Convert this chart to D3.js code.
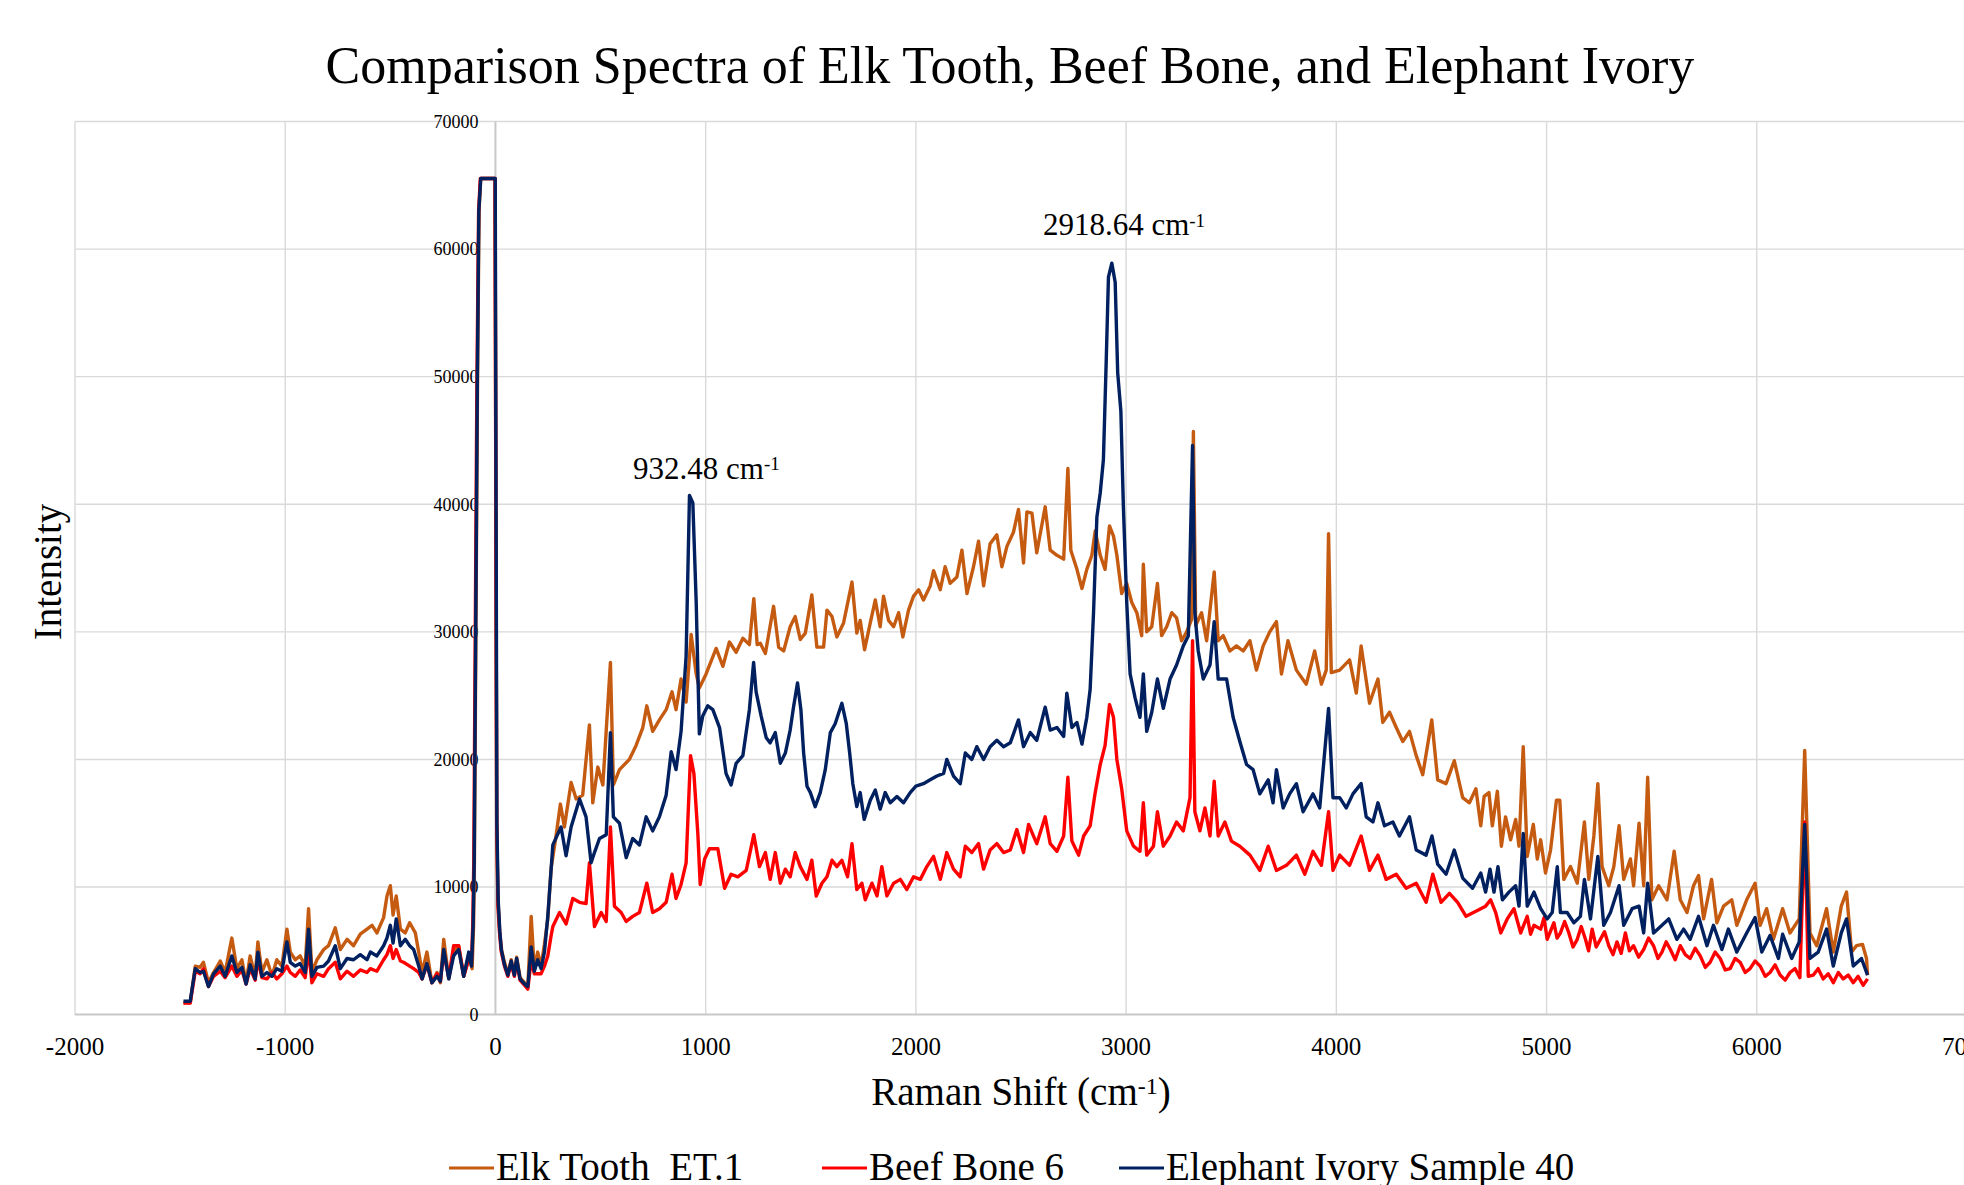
<!DOCTYPE html>
<html>
<head>
<meta charset="utf-8">
<script src="https://cdn.jsdelivr.net/npm/d3@7/dist/d3.min.js"></script>
<style>
  body { margin: 0; background: #fff; }
  svg { display: block; font-family: "Liberation Serif", "Times New Roman", serif; }
</style>
</head>
<body>
<svg id="chart" width="1964" height="1185"></svg>
<script>
// axis ticks
var xTicks = [-2000, -1000, 0, 1000, 2000, 3000, 4000, 5000, 6000, 7000];
var yTicks = [0, 10000, 20000, 30000, 40000, 50000, 60000, 70000];

var seriesNames = ["Elk Tooth  ET.1", "Beef Bone 6", "Elephant Ivory Sample 40"];
var seriesColors = ["#C55A11", "#FF0000", "#002060"];

// peak labels: [shift, label y value, text]
var peakShift = [932.48, 2918.64];
var peakLabelY = [42000, 61100];
var peakText = ["932.48 cm", "2918.64 cm"];

// [raman shift, intensity]
var elkTooth = [
  [-1484, 920], [-1452, 920], [-1428, 3800], [-1405, 3700], [-1389, 4100], [-1365, 2500], [-1341, 3300],
  [-1309, 4200], [-1286, 3300], [-1254, 6000], [-1230, 3600], [-1206, 4300], [-1186, 2500], [-1167, 4600],
  [-1143, 3000], [-1130, 5700], [-1111, 3300], [-1087, 4300], [-1063, 3000], [-1040, 4300], [-1016, 3800],
  [-992, 6700], [-976, 4900], [-952, 4300], [-929, 4600], [-905, 3800], [-889, 8300], [-873, 3300],
  [-849, 4300], [-817, 5100], [-794, 5400], [-762, 6800], [-738, 5100], [-706, 5900], [-675, 5400],
  [-643, 6300], [-611, 6700], [-587, 7000], [-564, 6400], [-532, 7600], [-516, 9300], [-500, 10100],
  [-487, 7800], [-472, 9300], [-452, 6700], [-429, 6400], [-408, 7200], [-381, 6400], [-365, 4900],
  [-349, 3300], [-326, 4900], [-302, 2500], [-278, 3300], [-262, 2500], [-246, 5900], [-222, 2800],
  [-199, 4900], [-175, 5400], [-151, 3000], [-127, 4600], [-111, 3600],
  [-104, 7000], [-100, 12000], [-93, 30000], [-85, 50000], [-78, 63000], [-70, 65535], [-2, 65535],
  [2, 40000], [6, 15000], [12, 9000], [20, 6500], [30, 5000],
  [43, 4100], [59, 3200], [75, 4300], [90, 3200], [101, 4500], [117, 2900], [138, 2500], [154, 2200],
  [170, 7700], [185, 3500], [201, 4900], [217, 3800], [233, 5500], [249, 7500], [265, 11500],
  [289, 14100], [309, 16500], [328, 14700], [360, 18200], [384, 16900], [415, 17200], [447, 22700],
  [463, 16600], [487, 19400], [511, 18000], [547, 27600], [561, 18000], [590, 19200], [637, 20000],
  [669, 21100], [701, 22500], [720, 24200], [748, 22200], [780, 23100], [812, 23900], [840, 25300],
  [859, 23900], [883, 26300], [907, 24500], [931, 29800], [955, 26700], [970, 25600], [1002, 26700],
  [1050, 28700], [1082, 27300], [1113, 29200], [1145, 28400], [1177, 29500], [1208, 29000], [1229, 32600],
  [1245, 29000], [1260, 29100], [1284, 28300], [1323, 32000], [1347, 28800], [1371, 28500], [1402, 30400],
  [1426, 31200], [1450, 29400], [1474, 29900], [1505, 32900], [1529, 28800], [1561, 28800], [1577, 31700],
  [1601, 31200], [1624, 29600], [1656, 30700], [1696, 33900], [1719, 29900], [1735, 30900], [1756, 28600],
  [1783, 30700], [1807, 32500], [1830, 30400], [1846, 32800], [1870, 30900], [1894, 30400], [1918, 31500],
  [1938, 29600], [1965, 31700], [1989, 32800], [2013, 33300], [2036, 32500], [2068, 33600], [2084, 34800],
  [2116, 33300], [2139, 35100], [2163, 33800], [2195, 34300], [2219, 36400], [2243, 33000], [2274, 35100],
  [2298, 37100], [2322, 33600], [2353, 36900], [2385, 37600], [2409, 35100], [2433, 36700], [2464, 37800],
  [2488, 39600], [2512, 35400], [2528, 39400], [2552, 39300], [2575, 36200], [2615, 39800], [2639, 36400],
  [2671, 36000], [2703, 35700], [2723, 42800], [2737, 36400], [2766, 34900], [2790, 33400], [2813, 34900],
  [2837, 36000], [2853, 37900], [2877, 36000], [2900, 34900], [2921, 38300], [2940, 37500], [2956, 36000],
  [2979, 33000], [3003, 33800], [3027, 32300], [3051, 31500], [3074, 29700], [3082, 35300], [3098, 30000],
  [3122, 30400], [3149, 33800], [3169, 29700], [3193, 30400], [3217, 31500], [3240, 31100], [3264, 29300],
  [3288, 30000], [3312, 31000], [3320, 45700], [3331, 30500], [3359, 31500], [3383, 29300], [3419, 34700],
  [3438, 29300], [3462, 29700], [3494, 28500], [3525, 28900], [3557, 28500], [3589, 29300], [3620, 27000],
  [3652, 28900], [3683, 30000], [3715, 30800], [3739, 26700], [3770, 29300], [3810, 27000], [3857, 25900],
  [3897, 28500], [3929, 25900], [3952, 27000], [3963, 37700], [3976, 26800], [4016, 27000], [4063, 27800],
  [4095, 25200], [4118, 28900], [4158, 24400], [4198, 26300], [4221, 22900], [4253, 23700], [4285, 22500],
  [4316, 21400], [4348, 22200], [4380, 20300], [4411, 18800], [4454, 23100], [4482, 18400], [4522, 18100],
  [4561, 19900], [4601, 17000], [4633, 16600], [4664, 17700], [4687, 14800], [4703, 17100], [4726, 17400],
  [4742, 14800], [4766, 17500], [4785, 13200], [4805, 15500], [4829, 13700], [4853, 15300], [4869, 13200],
  [4889, 21000], [4908, 12400], [4937, 14900], [4956, 12200], [4972, 13700], [4995, 11100], [5019, 12900],
  [5047, 16800], [5063, 16800], [5082, 10600], [5114, 11600], [5146, 10300], [5180, 15100], [5201, 10600],
  [5225, 14000], [5244, 18100], [5264, 11600], [5296, 10100], [5320, 11600], [5345, 14800], [5367, 10600],
  [5399, 12200], [5414, 10100], [5440, 15000], [5462, 10100], [5481, 18600], [5501, 9000], [5533, 10100],
  [5573, 9000], [5607, 12800], [5636, 9000], [5668, 8000], [5699, 10100], [5723, 10900], [5747, 7500],
  [5785, 10600], [5810, 7200], [5842, 8500], [5881, 9000], [5905, 7000], [5952, 9000], [5992, 10300],
  [6016, 7000], [6047, 8300], [6079, 5900], [6123, 8300], [6158, 6400], [6202, 7500], [6228, 20700],
  [6253, 6400], [6285, 5400], [6332, 8300], [6364, 4900], [6402, 8500], [6427, 9600], [6451, 4900],
  [6474, 5400], [6503, 5500], [6522, 4400], [6527, 3100]
];

var beefBone = [
  [-1484, 900], [-1452, 900], [-1428, 3400], [-1405, 3200], [-1389, 3600], [-1365, 2200], [-1341, 3000],
  [-1309, 3400], [-1286, 2900], [-1254, 3800], [-1230, 3000], [-1206, 3500], [-1186, 2400], [-1167, 3600],
  [-1143, 2700], [-1130, 4300], [-1111, 2900], [-1087, 2800], [-1063, 3300], [-1040, 2800], [-1016, 3200],
  [-992, 3800], [-976, 3300], [-952, 3000], [-929, 3500], [-905, 2900], [-889, 5100], [-873, 2500],
  [-849, 3200], [-817, 3000], [-794, 3600], [-762, 4100], [-738, 2800], [-706, 3400], [-675, 3000],
  [-643, 3500], [-611, 3300], [-595, 3600], [-564, 3400], [-532, 4300], [-516, 4700], [-500, 5400],
  [-487, 4400], [-472, 5100], [-452, 4200], [-437, 4100], [-408, 3800], [-389, 3600], [-365, 3300],
  [-349, 2800], [-326, 3900], [-302, 2500], [-278, 3200], [-262, 2600], [-246, 4900], [-222, 2900],
  [-199, 5400], [-175, 5400], [-151, 3000], [-127, 4300], [-114, 4100],
  [-108, 7000], [-103, 12000], [-96, 30000], [-88, 50000], [-80, 63000], [-72, 65535], [-2, 65535],
  [2, 40000], [6, 15000], [12, 8500], [20, 6300], [27, 5000],
  [43, 3800], [59, 3000], [75, 4000], [90, 3000], [101, 4200], [117, 2700], [138, 2300], [154, 2000],
  [170, 4300], [185, 3200], [201, 3200], [217, 3200], [233, 3800], [249, 4600], [265, 6200],
  [273, 6900], [305, 8000], [336, 7100], [368, 9100], [400, 8800], [431, 8700], [447, 11900],
  [471, 6900], [503, 8000], [527, 7300], [547, 14700], [566, 8500], [598, 8000], [622, 7300],
  [653, 7700], [685, 8000], [720, 10300], [748, 8000], [780, 8300], [812, 8800], [840, 11000],
  [859, 9100], [883, 10200], [907, 11900], [928, 20300], [944, 18900], [963, 14100], [974, 10200],
  [995, 12200], [1018, 13000], [1058, 13000], [1090, 9900], [1121, 11000], [1153, 10800], [1193, 11300],
  [1229, 14100], [1256, 11600], [1284, 12700], [1307, 10600], [1331, 12700], [1355, 10300], [1379, 11400],
  [1402, 10800], [1426, 12700], [1450, 11600], [1482, 10600], [1505, 12100], [1526, 9300], [1553, 10300],
  [1577, 10800], [1601, 12100], [1624, 11600], [1648, 12100], [1675, 10800], [1696, 13400], [1719, 9800],
  [1743, 10300], [1759, 9000], [1791, 10300], [1815, 9300], [1838, 11600], [1862, 9300], [1894, 10300],
  [1926, 10600], [1957, 9800], [1989, 10800], [2021, 10600], [2052, 11600], [2084, 12400], [2116, 10600],
  [2147, 12700], [2179, 11400], [2211, 10800], [2235, 13200], [2266, 12700], [2298, 13400], [2322, 11400],
  [2353, 12900], [2385, 13400], [2417, 12700], [2449, 12900], [2480, 14500], [2512, 12700], [2536, 14900],
  [2575, 13400], [2615, 15500], [2639, 13400], [2671, 12800], [2703, 14000], [2723, 18600], [2742, 13600],
  [2774, 12500], [2798, 14000], [2829, 14800], [2853, 17400], [2877, 19600], [2900, 21100], [2921, 24300],
  [2940, 23300], [2956, 20000], [2979, 17700], [3003, 14400], [3035, 13200], [3066, 12800], [3082, 16600],
  [3098, 12500], [3130, 13200], [3149, 15900], [3177, 13200], [3209, 14000], [3240, 15100], [3272, 14400],
  [3304, 17000], [3316, 29300], [3327, 15900], [3351, 14400], [3375, 16200], [3399, 14000], [3419, 18300],
  [3438, 14000], [3470, 15100], [3501, 13600], [3541, 13200], [3589, 12500], [3636, 11300], [3676, 13200],
  [3715, 11300], [3763, 11700], [3810, 12500], [3850, 11000], [3889, 12800], [3929, 11700], [3963, 15900],
  [3984, 11300], [4016, 12500], [4063, 11700], [4118, 14000], [4158, 11300], [4198, 12500], [4237, 10600],
  [4285, 11000], [4332, 9900], [4380, 10300], [4427, 8800], [4459, 11000], [4498, 8800], [4538, 9500],
  [4577, 8800], [4617, 7700], [4664, 8100], [4710, 8500], [4734, 9000], [4758, 8000], [4782, 6400],
  [4813, 7500], [4845, 8300], [4877, 6400], [4908, 7700], [4924, 6300], [4940, 7000], [4972, 6700],
  [4988, 7600], [5003, 5900], [5035, 7200], [5050, 6000], [5066, 6400], [5086, 7300], [5106, 6400],
  [5126, 5300], [5146, 5900], [5165, 6900], [5185, 5900], [5200, 5000], [5217, 6700], [5236, 5300],
  [5256, 5900], [5276, 6500], [5296, 5400], [5316, 4700], [5335, 5700], [5355, 4800], [5375, 6400],
  [5394, 5000], [5414, 5400], [5438, 4500], [5462, 5100], [5485, 6000], [5509, 5400], [5530, 4400],
  [5549, 4900], [5569, 5700], [5589, 5100], [5612, 4300], [5636, 5400], [5660, 4700], [5683, 4400],
  [5707, 5200], [5731, 4600], [5755, 3700], [5778, 4100], [5802, 4900], [5826, 4400], [5850, 3500],
  [5873, 3600], [5897, 4400], [5921, 4100], [5945, 3300], [5968, 3600], [5992, 4200], [6016, 3800],
  [6040, 3000], [6063, 3300], [6087, 3900], [6111, 3100], [6135, 2700], [6158, 3300], [6182, 3600],
  [6205, 2900], [6228, 15100], [6245, 3000], [6269, 3100], [6292, 3600], [6316, 2800], [6340, 3200],
  [6364, 2500], [6388, 3300], [6411, 2800], [6435, 3100], [6459, 2500], [6482, 3000], [6506, 2300],
  [6527, 2800]
];

var elephantIvory = [
  [-1484, 1050], [-1452, 1050], [-1428, 3600], [-1405, 3300], [-1389, 3400], [-1365, 2200], [-1341, 3200],
  [-1309, 3800], [-1286, 3000], [-1254, 4600], [-1230, 3300], [-1206, 3700], [-1186, 2400], [-1167, 3900],
  [-1143, 2800], [-1130, 4900], [-1111, 3000], [-1087, 3300], [-1063, 3000], [-1040, 3600], [-1016, 3400],
  [-992, 5700], [-976, 4100], [-952, 3800], [-929, 4000], [-905, 3300], [-889, 6700], [-873, 3000],
  [-849, 3700], [-817, 3800], [-794, 4200], [-762, 5400], [-738, 3600], [-706, 4400], [-675, 4300],
  [-643, 4700], [-611, 4300], [-595, 4900], [-564, 4600], [-532, 5400], [-516, 6000], [-500, 7000],
  [-487, 5600], [-472, 7500], [-452, 5400], [-429, 5900], [-408, 5400], [-389, 5100], [-365, 3800],
  [-349, 2800], [-326, 4000], [-302, 2500], [-278, 3000], [-262, 2600], [-246, 5100], [-222, 2800],
  [-199, 4600], [-175, 5100], [-151, 3000], [-127, 4900], [-114, 3800],
  [-106, 7000], [-101, 12000], [-94, 30000], [-86, 50000], [-79, 63000], [-70, 65535], [-1, 65535],
  [3, 40000], [7, 15000], [13, 9000], [21, 6500], [28, 5100],
  [43, 3900], [59, 3100], [75, 4200], [90, 3100], [101, 4400], [117, 2800], [138, 2400], [154, 2200],
  [170, 5300], [185, 3400], [201, 4300], [217, 3600], [233, 4900], [249, 7700], [273, 13300],
  [312, 14700], [336, 12450], [360, 14700], [400, 16900], [431, 15500], [455, 11900], [471, 12700],
  [495, 13800], [527, 14100], [547, 22100], [561, 15500], [590, 15000], [622, 12300], [653, 13800],
  [685, 13300], [717, 15500], [748, 14400], [780, 15500], [812, 17200], [836, 20600], [859, 19200],
  [883, 22200], [907, 28100], [923, 40700], [939, 40100], [955, 32300], [970, 22000], [986, 23400],
  [1010, 24200], [1034, 23900], [1066, 22500], [1097, 18900], [1121, 18000], [1145, 19700], [1177, 20300],
  [1208, 23900], [1228, 27600], [1240, 25300], [1264, 23400], [1288, 21700], [1307, 21300], [1331, 22100],
  [1355, 19700], [1379, 20500], [1402, 22300], [1418, 24100], [1437, 26000], [1453, 23900], [1466, 20500],
  [1482, 17900], [1498, 17400], [1521, 16300], [1545, 17400], [1569, 19200], [1593, 22100], [1616, 22800],
  [1648, 24400], [1669, 22800], [1685, 20500], [1700, 18100], [1719, 16300], [1735, 17400], [1754, 15300],
  [1783, 16800], [1807, 17600], [1830, 16100], [1854, 17400], [1878, 16600], [1910, 17100], [1941, 16600],
  [1973, 17400], [2000, 17900], [2036, 18100], [2068, 18400], [2100, 18700], [2132, 18900], [2147, 20000],
  [2179, 18700], [2211, 18100], [2235, 20500], [2266, 20000], [2290, 21000], [2322, 20000], [2353, 21000],
  [2385, 21500], [2417, 21000], [2449, 21300], [2488, 23100], [2512, 21000], [2544, 22100], [2575, 21500],
  [2615, 24100], [2639, 22300], [2671, 22500], [2703, 21800], [2718, 25200], [2742, 22500], [2766, 22900],
  [2790, 21200], [2813, 23300], [2829, 25500], [2845, 31500], [2861, 39000], [2877, 40900], [2892, 43500],
  [2905, 51000], [2916, 57800], [2932, 58900], [2948, 57400], [2960, 50300], [2975, 47300], [2987, 39800],
  [3003, 32300], [3019, 26700], [3043, 24800], [3066, 23300], [3082, 26700], [3098, 22200], [3122, 23700],
  [3149, 26300], [3177, 24000], [3209, 26300], [3240, 27400], [3272, 28900], [3296, 29700], [3316, 44600],
  [3327, 31500], [3343, 28500], [3367, 26300], [3399, 27400], [3419, 30800], [3438, 26300], [3478, 26300],
  [3509, 23300], [3541, 21400], [3573, 19600], [3604, 19200], [3636, 17300], [3676, 18400], [3699, 16600],
  [3715, 19200], [3747, 16200], [3778, 17300], [3810, 18100], [3842, 15900], [3889, 17300], [3921, 16200],
  [3963, 24000], [3984, 17000], [4016, 17000], [4047, 16200], [4079, 17300], [4118, 18100], [4142, 15500],
  [4174, 15100], [4198, 16600], [4229, 14800], [4269, 15100], [4300, 14000], [4348, 15500], [4380, 12900],
  [4427, 12500], [4455, 14000], [4482, 11800], [4522, 11000], [4561, 12900], [4601, 10700], [4648, 9900],
  [4687, 11100], [4710, 9600], [4731, 11400], [4750, 9600], [4769, 11600], [4790, 9000], [4821, 9600],
  [4853, 10100], [4869, 8500], [4889, 14200], [4908, 8500], [4940, 9600], [4972, 8300], [5003, 7500],
  [5027, 8000], [5051, 11600], [5066, 8000], [5098, 8000], [5130, 7200], [5161, 7700], [5180, 10600],
  [5209, 7500], [5244, 12400], [5272, 7000], [5304, 8000], [5345, 10100], [5367, 7000], [5407, 8300],
  [5440, 8500], [5462, 6400], [5481, 10300], [5509, 6400], [5549, 7000], [5581, 7500], [5620, 5900],
  [5652, 6700], [5683, 5900], [5723, 7700], [5763, 5400], [5794, 7000], [5834, 5100], [5865, 6700],
  [5905, 4900], [5952, 6400], [5992, 7600], [6024, 4900], [6063, 6200], [6103, 4400], [6123, 6300],
  [6166, 4400], [6202, 5700], [6228, 14900], [6253, 4400], [6292, 4900], [6332, 6700], [6364, 3800],
  [6402, 6400], [6427, 7500], [6459, 3800], [6498, 4400], [6527, 3100]
];

var allSeries = [elkTooth, beefBone, elephantIvory];

var svg = d3.select("#chart");

var x = d3.scaleLinear().domain([-2000, 7000]).range([75, 1967]);
var y = d3.scaleLinear().domain([0, 70000]).range([1014.6, 121.5]);

// grid
svg.append("g")
    .selectAll("line")
    .data(xTicks.filter(function (d) { return d !== 0; }))
    .enter()
    .append("line")
    .attr("x1", function (d) { return x(d); })
    .attr("x2", function (d) { return x(d); })
    .attr("y1", y(70000))
    .attr("y2", y(0))
    .attr("stroke", "#d9d9d9")
    .attr("stroke-width", 1.4);

svg.append("g")
    .selectAll("line")
    .data(yTicks.filter(function (d) { return d !== 0; }))
    .enter()
    .append("line")
    .attr("x1", x(-2000))
    .attr("x2", x(7000))
    .attr("y1", function (d) { return y(d); })
    .attr("y2", function (d) { return y(d); })
    .attr("stroke", "#d9d9d9")
    .attr("stroke-width", 1.4);

// axis lines (y axis crosses at 0)
svg.append("line")
    .attr("x1", x(0)).attr("x2", x(0))
    .attr("y1", y(70000)).attr("y2", y(0))
    .attr("stroke", "#c8c8c8").attr("stroke-width", 2);
svg.append("line")
    .attr("x1", x(-2000)).attr("x2", x(7000))
    .attr("y1", y(0)).attr("y2", y(0))
    .attr("stroke", "#c8c8c8").attr("stroke-width", 2);

// tick labels
svg.append("g")
    .selectAll("text")
    .data(yTicks)
    .enter()
    .append("text")
    .attr("x", x(0) - 17)
    .attr("y", function (d) { return y(d); })
    .attr("dy", "0.35em")
    .attr("text-anchor", "end")
    .style("font-size", "18px")
    .text(function (d) { return d; });

svg.append("g")
    .selectAll("text")
    .data(xTicks)
    .enter()
    .append("text")
    .attr("x", function (d) { return x(d); })
    .attr("y", 1055)
    .attr("text-anchor", "middle")
    .style("font-size", "25px")
    .text(function (d) { return d; });

// series
var line = d3.line()
    .x(function (d) { return x(d[0]); })
    .y(function (d) { return y(d[1]); });

svg.append("g")
    .selectAll("path")
    .data(allSeries)
    .enter()
    .append("path")
    .attr("d", line)
    .attr("fill", "none")
    .attr("stroke", function (d, i) { return seriesColors[i]; })
    .attr("stroke-width", 3.4)
    .attr("stroke-linejoin", "round");

// peak labels
peakShift.forEach(function (s, i) {
    var t = svg.append("text")
        .attr("x", x(s) + 15)
        .attr("y", y(peakLabelY[i]))
        .attr("text-anchor", "middle")
        .style("font-size", "31px")
        .text(peakText[i]);
    t.append("tspan")
        .attr("dy", "-0.45em")
        .style("font-size", "19px")
        .text("-1");
});

// titles
svg.append("text")
    .attr("x", 1010)
    .attr("y", 83)
    .attr("text-anchor", "middle")
    .style("font-size", "52px")
    .text("Comparison Spectra of Elk Tooth, Beef Bone, and Elephant Ivory");

var xt = svg.append("text")
    .attr("x", 1021)
    .attr("y", 1105)
    .attr("text-anchor", "middle")
    .style("font-size", "39px")
    .text("Raman Shift (cm");
xt.append("tspan").attr("dy", "-0.45em").style("font-size", "24px").text("-1");
xt.append("tspan").attr("dy", "0.28em").text(")");

svg.append("text")
    .attr("transform", "translate(61,572) rotate(-90)")
    .attr("text-anchor", "middle")
    .style("font-size", "39px")
    .text("Intensity");

// legend
var legendX = [449, 822, 1119];
var legend = svg.append("g")
    .selectAll("g")
    .data(seriesNames)
    .enter()
    .append("g")
    .attr("transform", function (d, i) { return "translate(" + legendX[i] + ",0)"; });

legend.append("line")
    .attr("x1", 0).attr("x2", 45)
    .attr("y1", 1168).attr("y2", 1168)
    .attr("stroke", function (d, i) { return seriesColors[i]; })
    .attr("stroke-width", 3);

legend.append("text")
    .attr("x", 47)
    .attr("y", 1180)
    .style("font-size", "39px")
    .style("white-space", "pre")
    .attr("xml:space", "preserve")
    .text(function (d) { return d; });
</script>
</body>
</html>
